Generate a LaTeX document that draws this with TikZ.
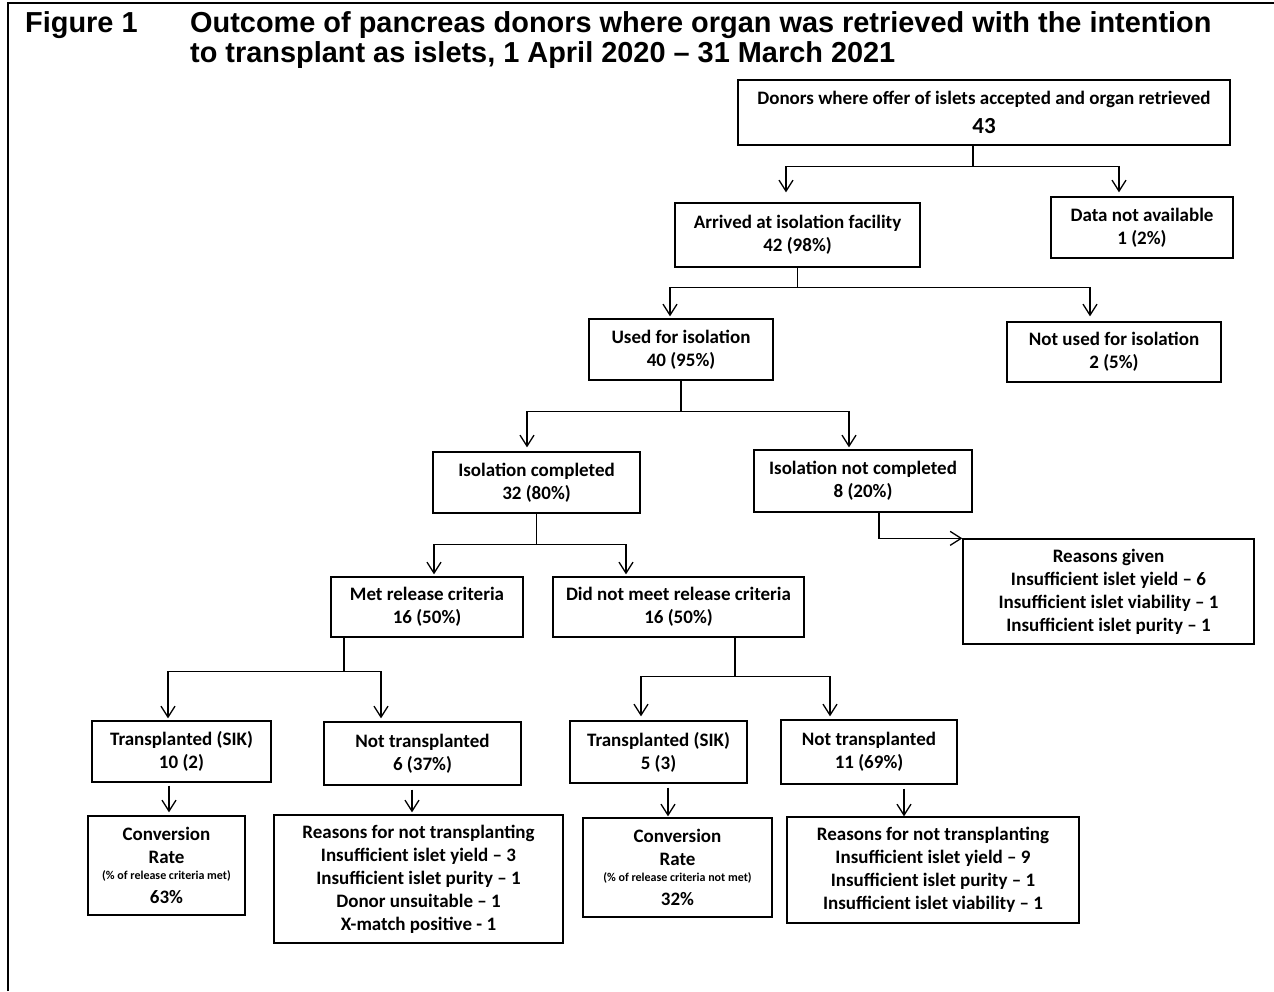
\documentclass[tikz,border=0pt]{standalone}
\usepackage{fontspec}
\newfontfamily\titlefont{Liberation Sans}
\newfontfamily\boxfont{Carlito}
\usetikzlibrary{arrows.meta,positioning,calc}

\tikzset{
  box/.style={draw, line width=1.3pt, rectangle, inner sep=0pt, align=center,
    font=\boxfont\bfseries\fontsize{19}{23}\selectfont},
  sz/.style 2 args={minimum width=#1pt, minimum height=#2pt},
  line/.style={line width=1.3pt},
  arr/.style={line width=1.3pt, -{Straight Barb[length=11pt,width=14pt]}},
  ttl/.style={anchor=north west, inner sep=0pt, align=left,
    font=\titlefont\bfseries\fontsize{28.9}{30.5}\selectfont},
}
\newcommand{\bignum}[1]{{\fontsize{23}{27}\selectfont #1}}
\newcommand{\smallnote}[1]{{\fontsize{12}{14}\selectfont #1}}

\begin{document}
\begin{tikzpicture}[x=1pt,y=-1pt]
\useasboundingbox (0,0) rectangle (1274,991);
% Frame
\draw[line width=2pt] (8,991) -- (8,3) -- (1274,3);

% Title
\node[ttl] (figlabel) at (25,11) {Figure 1};
\node[ttl] (title) at (190,11) {Outcome of pancreas donors where organ was retrieved with the intention\\to transplant as islets, 1 April 2020 – 31 March 2021};

% Boxes
\node[box, sz={492}{65}] (donor) at (984,112.5) {Donors where offer of islets accepted and organ retrieved\\[6pt]\bignum{43}};
\node[box, sz={245}{64}] (arrived) at (797.5,235) {Arrived at isolation facility\\42 (98\%)};
\node[box, sz={182}{61}] (nodata) at (1142,227.5) {Data not available\\1 (2\%)};
\node[box, sz={184}{61}] (used) at (681,349.5) {Used for isolation\\40 (95\%)};
\node[box, sz={214}{60}] (notused) at (1114,352) {Not used for isolation\\2 (5\%)};
\node[box, sz={207}{61}] (isocomp) at (536.5,482.5) {Isolation completed\\32 (80\%)};
\node[box, sz={218}{62}] (isonot) at (863,481) {Isolation not completed\\8 (20\%)};
\node[box, sz={291}{105}] (reasgiven) at (1108.5,591.5) {Reasons given\\Insufficient islet yield – 6\\Insufficient islet viability – 1\\Insufficient islet purity – 1};
\node[box, sz={192}{60}] (met) at (427,607) {Met release criteria\\16 (50\%)};
\node[box, sz={251}{60}] (didnot) at (678.5,607) {Did not meet release criteria\\16 (50\%)};
\node[box, sz={179}{61}] (tsik1) at (181.5,751.5) {Transplanted (SIK)\\10 (2)};
\node[box, sz={197}{63}] (nott1) at (422.5,753.5) {Not transplanted\\6 (37\%)};
\node[box, sz={177}{62}] (tsik2) at (658.5,752) {Transplanted (SIK)\\5 (3)};
\node[box, sz={176}{64}] (nott2) at (869,752) {Not transplanted\\11 (69\%)};
\node[box, sz={157}{99}] (conv1) at (166.5,865.5) {Conversion\\Rate\\[-7pt]\smallnote{(\% of release criteria met)}\\[1pt]63\%};
\node[box, sz={289}{128}] (reasons1) at (418.5,879) {Reasons for not transplanting\\Insufficient islet yield – 3\\Insufficient islet purity – 1\\Donor unsuitable – 1\\X-match positive - 1};
\node[box, sz={189}{99}] (conv2) at (677.5,867.5) {Conversion\\Rate\\[-7pt]\smallnote{(\% of release criteria not met)}\\[1pt]32\%};
\node[box, sz={292}{106}] (reasons2) at (933,870) {Reasons for not transplanting\\Insufficient islet yield – 9\\Insufficient islet purity – 1\\Insufficient islet viability – 1};

% Forks
\draw[line] ([xshift=-11pt]donor.south) -- ++(0,21) coordinate (f1);
\draw[arr] (f1) -| ([xshift=-11.5pt,yshift=10pt]arrived.north);
\draw[arr] (f1) -| ([xshift=-23pt,yshift=4pt]nodata.north);

\draw[line] (arrived.south) -- ++(0,20) coordinate (f2);
\draw[arr] (f2) -| ([xshift=-11pt,yshift=2pt]used.north);
\draw[arr] (f2) -| ([xshift=-24pt,yshift=5pt]notused.north);

\draw[line] (used.south) -- ++(0,31) coordinate (f3);
\draw[arr] (f3) -| ([xshift=-9.5pt,yshift=4pt]isocomp.north);
\draw[arr] (f3) -| ([xshift=-14pt,yshift=2pt]isonot.north);

\draw[arr] ([xshift=16pt]isonot.south) |- (reasgiven.north west);

\draw[line] (isocomp.south) -- ++(0,31) coordinate (f4);
\draw[arr] (f4) -| ([xshift=7pt,yshift=2pt]met.north);
\draw[arr] (f4) -| ([xshift=-52.5pt,yshift=2pt]didnot.north);

\draw[line] ([xshift=-83pt]met.south) -- ++(0,34) coordinate (f6);
\draw[arr] (f6) -| ([xshift=-13.5pt,yshift=2pt]tsik1.north);
\draw[arr] (f6) -| ([xshift=-41.5pt,yshift=3pt]nott1.north);

\draw[line] ([xshift=56.5pt]didnot.south) -- ++(0,39) coordinate (f7);
\draw[arr] (f7) -| ([xshift=-17.5pt,yshift=4pt]tsik2.north);
\draw[arr] (f7) -| ([xshift=-39pt,yshift=3pt]nott2.north);

% Single arrows
\draw[arr, shorten <=3pt] ([xshift=-12.5pt]tsik1.south) -- ([xshift=-12.5pt,yshift=3pt]tsik1.south |- conv1.north);
\draw[arr, shorten <=4pt] ([xshift=-10.5pt]nott1.south) -- ([xshift=-10.5pt,yshift=2pt]nott1.south |- reasons1.north);
\draw[arr, shorten <=4pt] ([xshift=9.5pt]tsik2.south) -- ([xshift=9.5pt,yshift=1pt]tsik2.south |- conv2.north);
\draw[arr, shorten <=4pt] ([xshift=35pt]nott2.south) -- ([xshift=35pt]nott2.south |- reasons2.north);
\end{tikzpicture}
\end{document}
